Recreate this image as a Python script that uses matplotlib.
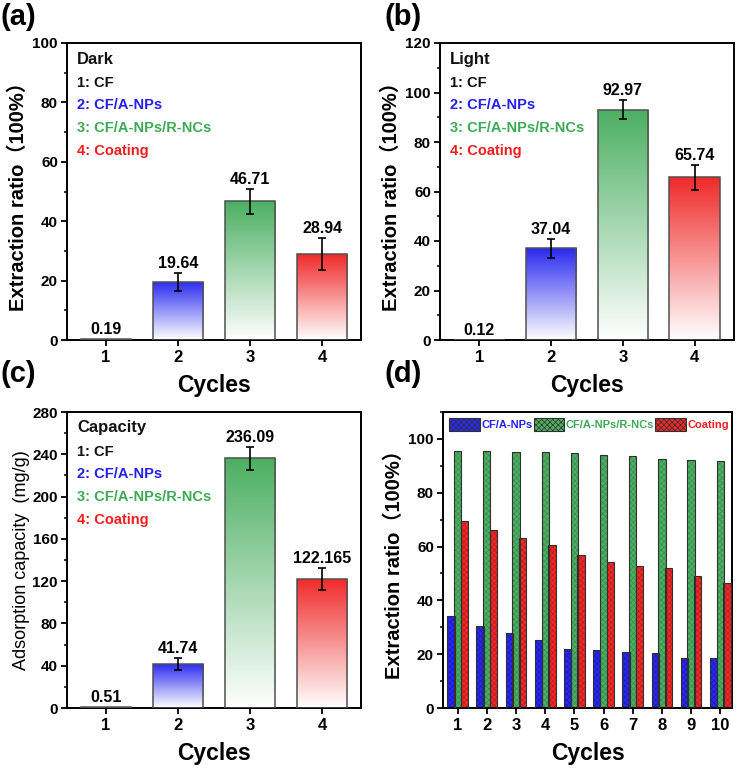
import matplotlib
matplotlib.use('Agg')
import matplotlib.pyplot as plt
import matplotlib.colors as mcolors
from matplotlib.patches import Patch
from matplotlib.ticker import MultipleLocator
import numpy as np

plt.rcParams['font.family'] = ['Liberation Sans', 'Noto Sans CJK SC', 'DejaVu Sans']
plt.rcParams['font.weight'] = 'bold'
plt.rcParams['axes.labelweight'] = 'bold'
plt.rcParams['hatch.linewidth'] = 0.5

# ---------------- data ----------------
samples = [1, 2, 3, 4]
sample_labels = ['1: CF', '2: CF/A-NPs', '3: CF/A-NPs/R-NCs', '4: Coating']

dark_values = [0.19, 19.64, 46.71, 28.94]
dark_errors = [0.0, 3.0, 4.2, 5.5]

light_values = [0.12, 37.04, 92.97, 65.74]
light_errors = [0.0, 3.9, 3.8, 5.0]

capacity_values = [0.51, 41.74, 236.09, 122.165]
capacity_errors = [0.0, 5.8, 11.0, 10.5]

cycles = [1, 2, 3, 4, 5, 6, 7, 8, 9, 10]
cf_anps = [34.2, 30.3, 27.7, 25.2, 22.0, 21.5, 20.8, 20.6, 18.7, 18.6]
cf_anps_rncs = [95.5, 95.5, 95.2, 95.0, 94.8, 93.9, 93.8, 92.6, 92.2, 91.7]
coating = [69.5, 66.0, 63.3, 60.5, 56.8, 54.3, 52.6, 51.9, 49.0, 46.4]
cycle_series_labels = ['CF/A-NPs', 'CF/A-NPs/R-NCs', 'Coating']

# ---------------- styles ----------------
bar_colors = ['#404040', '#2a2af0', '#4caf62', '#f02a2a']
text_colors = ['#111111', '#2020f0', '#3daa55', '#f01e1e']
edge_col = '#505050'

W, H = 738, 772
fig = plt.figure(figsize=(W / 100, H / 100), dpi=100)


def ax_at(l, t, r, b):
    return fig.add_axes([l / W, 1 - b / H, (r - l) / W, (b - t) / H])


def style_axes(ax):
    for s in ax.spines.values():
        s.set_linewidth(1.4)
    ax.tick_params(axis='both', which='major', direction='out', length=4.5, width=1.3,
                   top=False, right=False)
    ax.tick_params(axis='y', which='minor', direction='out', length=2.5, width=1.1, right=False)
    ax.tick_params(axis='x', which='minor', bottom=False, top=False)
    ax.tick_params(axis='x', labelsize=12, pad=3)
    ax.tick_params(axis='y', labelsize=11, pad=2)


def gradient_panel(ax, values, errors, ymax, major, title, ylabel, ylabel_kw):
    x = np.array(samples, dtype=float)
    bars = ax.bar(x, values, width=0.7, color='none', edgecolor=edge_col,
                  linewidth=1.1, zorder=3)
    t = np.linspace(0, 1, 256)[:, None, None]
    for b, c in zip(bars, bar_colors):
        rgb = np.array(mcolors.to_rgb(c))
        img = (1 - t) * np.ones(3) + t * rgb
        img = np.repeat(img, 2, axis=1)
        x0, w, h = b.get_x(), b.get_width(), b.get_height()
        im = ax.imshow(img, extent=[x0, x0 + w, 0, h], origin='lower',
                       aspect='auto', zorder=2, interpolation='bilinear')
        im.set_clip_path(b)
    idx = [i for i, e in enumerate(errors) if e > 0]
    ax.errorbar(x[idx], np.array(values)[idx], yerr=np.array(errors)[idx], fmt='none',
                ecolor='black', elinewidth=1.2, capsize=3.2, capthick=1.2, zorder=4)
    for xi, v, e in zip(x, values, errors):
        ax.annotate(f"{v:g}", (xi, v + e), xytext=(0, 1.5), textcoords='offset points',
                    ha='center', va='bottom', fontsize=11.5, zorder=5)
    ax.set_xlim(0.46, 4.54)
    ax.set_ylim(0, ymax)
    ax.set_xticks(samples)
    ax.yaxis.set_major_locator(MultipleLocator(major))
    ax.yaxis.set_minor_locator(MultipleLocator(major / 2))
    style_axes(ax)
    ax.set_xlabel('Cycles', fontsize=16.5, labelpad=6)
    ax.set_ylabel(ylabel, **ylabel_kw)
    ax.text(0.035, 0.946, title, transform=ax.transAxes, fontsize=12, color='#111111',
            va='center', ha='left')
    ys = [0.866, 0.790, 0.714, 0.636]
    for y, lab, c in zip(ys, sample_labels, text_colors):
        ax.text(0.035, y, lab, transform=ax.transAxes, fontsize=10.5, color=c,
                va='center', ha='left')


ylab_bold = dict(fontsize=14.5, fontweight='bold', labelpad=3)
ylab_reg = dict(fontsize=13, fontweight='normal', labelpad=1.5)

ax_a = ax_at(67, 43, 361, 340)
gradient_panel(ax_a, dark_values, dark_errors, 100, 20, 'Dark',
               'Extraction ratio（100%）', ylab_bold)

ax_b = ax_at(440, 43, 734, 340)
gradient_panel(ax_b, light_values, light_errors, 120, 20, 'Light',
               'Extraction ratio（100%）', ylab_bold)
ax_b.set_xlim(0.45, 4.55)

ax_c = ax_at(67, 412, 361, 708)
gradient_panel(ax_c, capacity_values, capacity_errors, 280, 40, 'Capacity',
               'Adsorption capacity  (mg/g)', ylab_reg)

# ---------------- panel d ----------------
ax_d = ax_at(443, 412, 732, 708)
xc = np.array(cycles, dtype=float)
bw = 0.25
offs = [-0.23, 0.0, 0.23]
fills = ['#2828f0', '#4caf62', '#f02828']
hatch_cols = ['#1a1ab8', '#3a8e4e', '#c01a1a']
series = [cf_anps, cf_anps_rncs, coating]
for off, vals, fc, hc in zip(offs, series, fills, hatch_cols):
    ax_d.bar(xc + off, vals, bw, color=fc, edgecolor=hc, hatch='xxxxxx', linewidth=0, zorder=2)
    ax_d.bar(xc + off, vals, bw, fill=False, edgecolor='#303030', linewidth=0.8, zorder=3)
ax_d.set_xlim(0.5, 10.4)
ax_d.set_ylim(0, 110)
ax_d.set_xticks(cycles)
ax_d.yaxis.set_major_locator(MultipleLocator(20))
ax_d.yaxis.set_minor_locator(MultipleLocator(10))
ax_d.set_yticks([0, 20, 40, 60, 80, 100])
style_axes(ax_d)
ax_d.set_xlabel('Cycles', fontsize=16.5, labelpad=6)
ax_d.set_ylabel('Extraction ratio（100%）', **ylab_bold)
handles = [Patch(facecolor=fc, edgecolor=hc, hatch='xxxxxx', linewidth=0)
           for fc, hc in zip(fills, hatch_cols)]
leg = ax_d.legend(handles, cycle_series_labels, loc='upper left', bbox_to_anchor=(0.0, 1.0),
                  ncol=3, frameon=False, fontsize=8, handlelength=2.75, handleheight=1.4,
                  handletextpad=0.15, columnspacing=0.1, borderaxespad=0.45,
                  borderpad=0.1, labelcolor=['#2020f0', '#3daa55', '#f01e1e'])
for p in leg.get_patches():
    p.set_linewidth(0.8)
    p.set_edgecolor('#303030')

# panel letters
for lab, (px, py) in zip(['(a)', '(b)', '(c)', '(d)'],
                         [(1, 3), (384, 3), (1, 360), (384, 360)]):
    fig.text(px / W, 1 - py / H, lab, fontsize=21, fontweight='bold', va='top', ha='left')

fig.savefig('out.png', dpi=100)
